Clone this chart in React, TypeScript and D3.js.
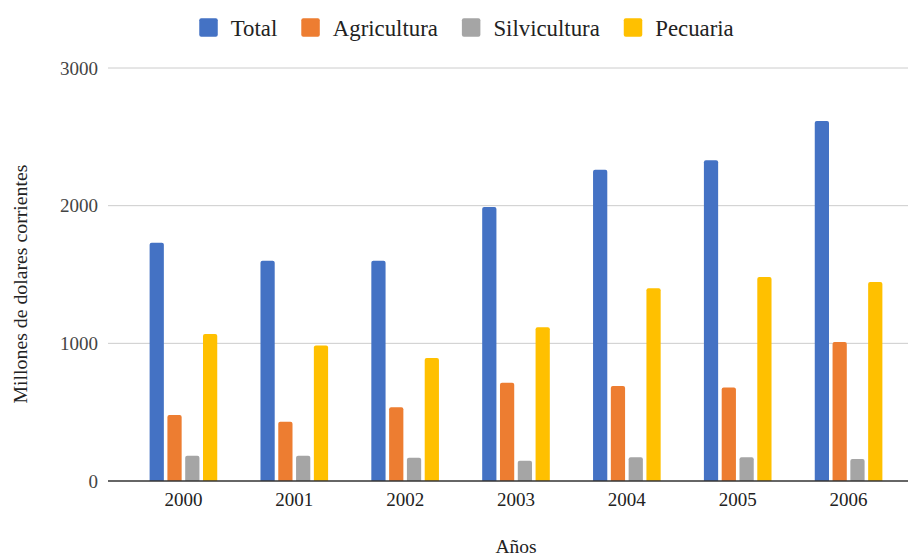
import React, { useEffect, useRef } from "react";
import * as d3 from "d3";

const years = ["2000", "2001", "2002", "2003", "2004", "2005", "2006"];
const seriesNames = ["Total", "Agricultura", "Silvicultura", "Pecuaria"];
const total = [1730, 1600, 1600, 1990, 2260, 2330, 2615];
const agricultura = [480, 430, 535, 714, 690, 680, 1010];
const silvicultura = [184, 184, 168, 148, 172, 172, 160];
const pecuaria = [1068, 985, 893, 1116, 1400, 1482, 1445];
const colors = ["#4472C4", "#ED7D31", "#A5A5A5", "#FFC000"];
const yTicks = [0, 1000, 2000, 3000];

const W = 908;
const H = 556;
const FONT = "'Liberation Serif', 'Times New Roman', serif";

export default function App() {
  const ref = useRef<SVGSVGElement | null>(null);

  useEffect(() => {
    document.body.style.margin = "0";
    const svg = d3.select(ref.current);
    svg.selectAll("*").remove();

    const values = [total, agricultura, silvicultura, pecuaria];
    const gridLeft = 108;
    const gridRight = 908;

    const x0 = d3.scaleBand<string>().domain(years).range([128, 904]).paddingInner(0.39).paddingOuter(0.195);
    const x1 = d3.scaleBand<string>().domain(seriesNames).range([0, x0.bandwidth()]).paddingInner(0.2);
    const y = d3.scaleLinear().domain([0, 3000]).range([481, 68]);

    // gridlines
    svg.append("g")
      .selectAll("line")
      .data(yTicks.filter((t) => t !== 0))
      .join("line")
      .attr("x1", gridLeft)
      .attr("x2", gridRight)
      .attr("y1", (d) => y(d))
      .attr("y2", (d) => y(d))
      .attr("stroke", "#cccccc")
      .attr("stroke-width", 1);

    // y tick labels
    svg.append("g")
      .selectAll("text")
      .data(yTicks)
      .join("text")
      .attr("x", 98)
      .attr("y", (d) => y(d))
      .attr("dy", "0.35em")
      .attr("text-anchor", "end")
      .attr("font-family", FONT)
      .attr("font-size", 19)
      .attr("fill", "#444")
      .text((d) => String(d));

    // bars
    const r = 2;
    const barPath = (bx: number, by: number, bw: number, bh: number) => {
      const rr = Math.min(r, bh / 2, bw / 2);
      return `M${bx},${by + bh}V${by + rr}Q${bx},${by} ${bx + rr},${by}H${bx + bw - rr}Q${bx + bw},${by} ${bx + bw},${by + rr}V${by + bh}Z`;
    };
    const groups = svg.append("g")
      .selectAll("g")
      .data(years)
      .join("g")
      .attr("transform", (d) => `translate(${x0(d)},0)`);
    groups.selectAll("path")
      .data((_, i) => seriesNames.map((s, k) => ({ s, k, v: values[k][i] })))
      .join("path")
      .attr("d", (d) => barPath(x1(d.s)!, y(d.v), x1.bandwidth(), y(0) - y(d.v)))
      .attr("fill", (d) => colors[d.k]);

    // baseline
    svg.append("line")
      .attr("x1", gridLeft)
      .attr("x2", gridRight)
      .attr("y1", y(0))
      .attr("y2", y(0))
      .attr("stroke", "#333")
      .attr("stroke-width", 1.5);

    // x tick labels
    svg.append("g")
      .selectAll("text")
      .data(years)
      .join("text")
      .attr("x", (d) => x0(d)! + x0.bandwidth() / 2)
      .attr("y", 506)
      .attr("text-anchor", "middle")
      .attr("font-family", FONT)
      .attr("font-size", 19)
      .attr("fill", "#222")
      .text((d) => d);

    // axis titles
    svg.append("text")
      .attr("x", (x0.range()[0] + x0.range()[1]) / 2)
      .attr("y", 553)
      .attr("text-anchor", "middle")
      .attr("font-family", FONT)
      .attr("font-size", 19.5)
      .attr("fill", "#222")
      .text("Años");

    svg.append("text")
      .attr("transform", `translate(27,284) rotate(-90)`)
      .attr("text-anchor", "middle")
      .attr("font-family", FONT)
      .attr("font-size", 19.8)
      .attr("fill", "#222")
      .text("Millones de dolares corrientes");

    // legend
    const lg = svg.append("g");
    const sq = 18.5;
    const gapT = 13;
    const gapItem = 24;
    let cx = 0;
    seriesNames.forEach((s, i) => {
      const g = lg.append("g");
      g.append("rect")
        .attr("x", 0)
        .attr("y", 18.3)
        .attr("width", sq)
        .attr("height", sq)
        .attr("rx", 2)
        .attr("fill", colors[i]);
      const t = g.append("text")
        .attr("x", sq + gapT)
        .attr("y", 36)
        .attr("font-family", FONT)
        .attr("font-size", 22.8)
        .attr("fill", "#222")
        .text(s);
      const w = (t.node() as SVGTextElement).getComputedTextLength();
      g.attr("transform", `translate(${cx},0)`);
      cx += sq + gapT + w + gapItem;
    });
    const totalW = cx - gapItem;
    lg.attr("transform", `translate(${466.5 - totalW / 2},0)`);
  }, []);

  return (
    <svg
      ref={ref}
      width={W}
      height={H}
      style={{ display: "block", position: "absolute", left: 0, top: 0, background: "#fff" }}
    />
  );
}
